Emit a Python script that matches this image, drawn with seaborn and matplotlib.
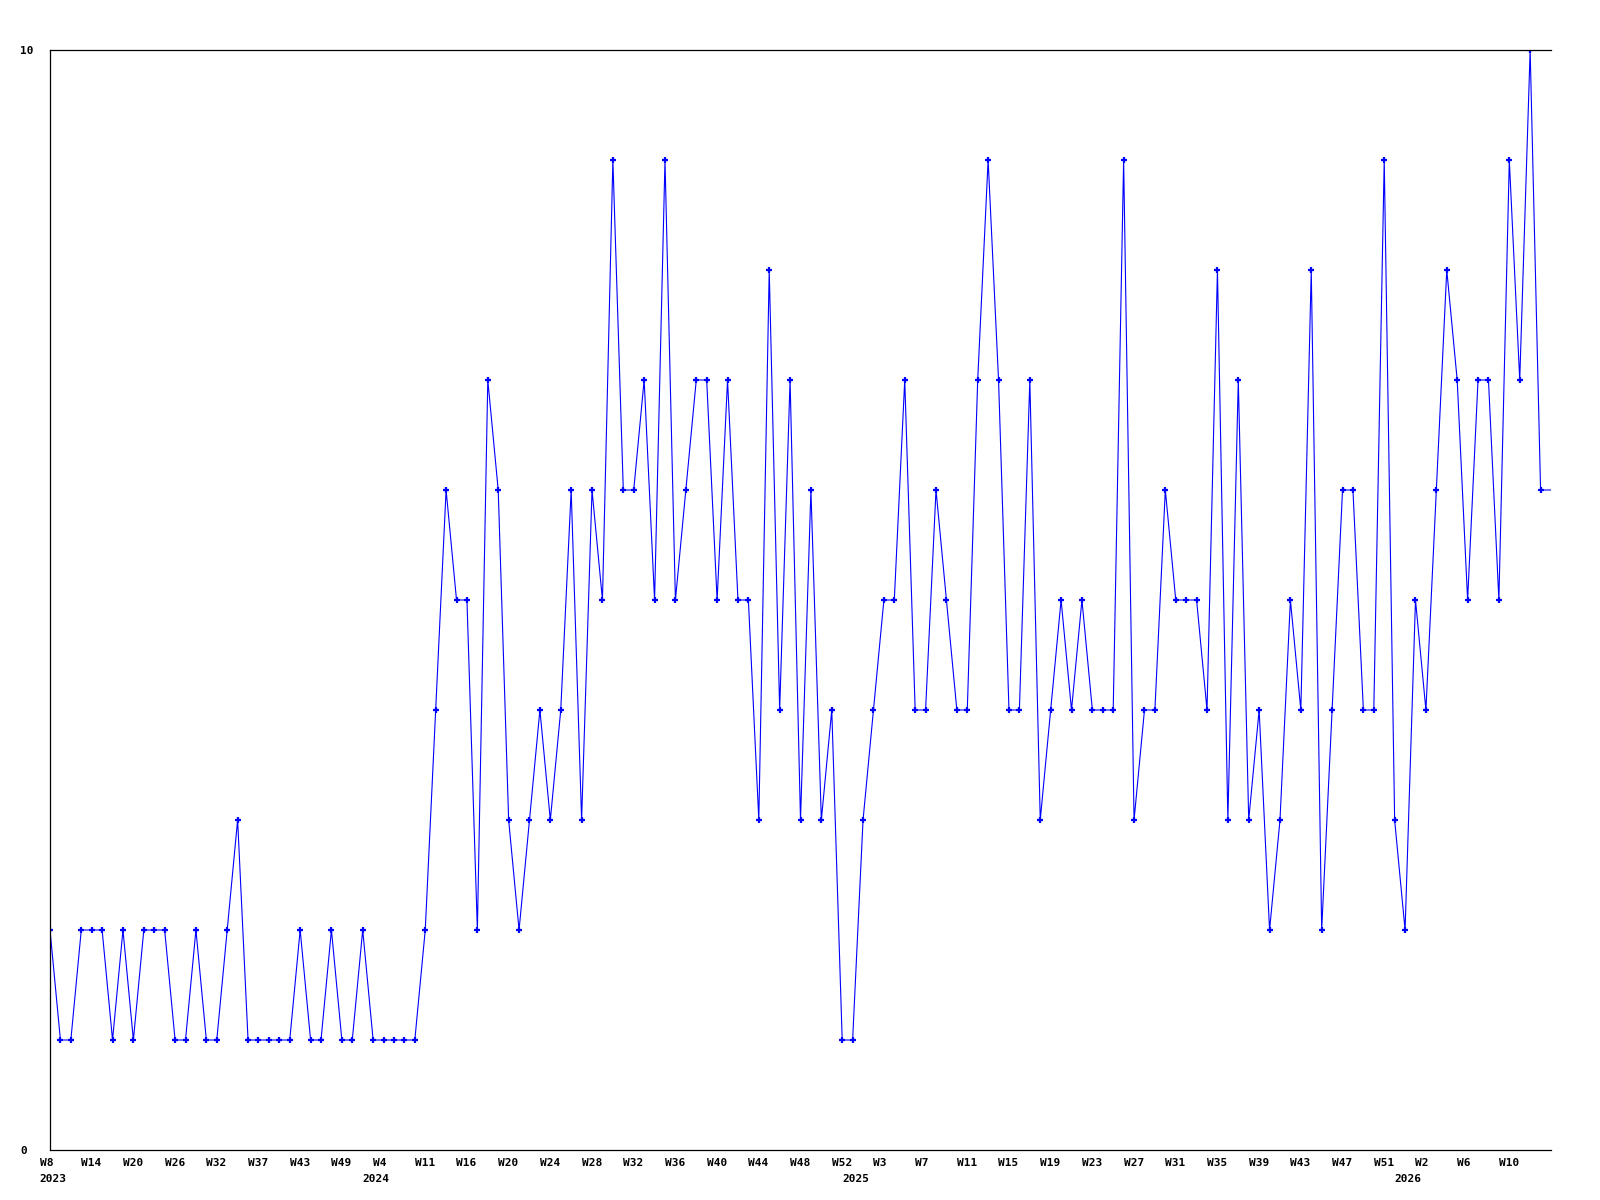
import numpy as np
import pandas as pd
import matplotlib.pyplot as plt
import matplotlib.transforms as mtransforms
import seaborn as sns

# weekly counts, one point per reported week (2023 W8 .. 2026)
values = [
    2, 1, 1, 2, 2, 2, 1, 2, 1, 2, 2, 2, 1, 1, 2, 1, 1, 2, 3, 1,
    1, 1, 1, 1, 2, 1, 1, 2, 1, 1, 2, 1, 1, 1, 1, 1, 2, 4, 6, 5,
    5, 2, 7, 6, 3, 2, 3, 4, 3, 4, 6, 3, 6, 5, 9, 6, 6, 7, 5, 9,
    5, 6, 7, 7, 5, 7, 5, 5, 3, 8, 4, 7, 3, 6, 3, 4, 1, 1, 3, 4,
    5, 5, 7, 4, 4, 6, 5, 4, 4, 7, 9, 7, 4, 4, 7, 3, 4, 5, 4, 5,
    4, 4, 4, 9, 3, 4, 4, 6, 5, 5, 5, 4, 8, 3, 7, 3, 4, 2, 3, 5,
    4, 8, 2, 4, 6, 6, 4, 4, 9, 3, 2, 5, 4, 6, 8, 7, 5, 7, 7, 5,
    9, 7, 10, 6, 6,
]

week_labels = ["W8", "W14", "W20", "W26", "W32", "W37", "W43", "W49", "W4",
               "W11", "W16", "W20", "W24", "W28", "W32", "W36", "W40", "W44",
               "W48", "W52", "W3", "W7", "W11", "W15", "W19", "W23", "W27",
               "W31", "W35", "W39", "W43", "W47", "W51", "W2", "W6", "W10"]
week_every = 4

years = ["2023", "2024", "2025", "2026"]
year_index = [0, 31, 77, 130]

df = pd.DataFrame({"idx": np.arange(len(values)), "value": values})

sns.set_style("white")
plt.rcParams['font.family'] = ['DejaVu Sans Mono', 'DejaVu Sans']

fig = plt.figure(figsize=(16, 12), dpi=100)
ax = fig.add_axes([50 / 1600, 50 / 1200, 1501 / 1600, 1100 / 1200])

# the last week runs into the right edge, without a marker
sns.lineplot(data=df, x="idx", y="value", ax=ax, color="#0000ff",
             linewidth=0.8, marker="+", markersize=5, markeredgewidth=1.6,
             markeredgecolor="#0000ff", estimator=None,
             markevery=list(range(len(values) - 1)))

ax.set_xlim(0, len(values) - 1)
ax.set_ylim(0, 10)
ax.set_xlabel("")
ax.set_ylabel("")

for side in ["left", "top", "bottom"]:
    ax.spines[side].set_color("black")
    ax.spines[side].set_linewidth(0.9)
ax.spines["right"].set_visible(False)

# y ticks: only 0 and 10, left-aligned at the figure edge
ax.set_yticks([0, 10])
ax.set_yticklabels(["0", "10"], fontsize=8, fontweight="bold", ha="left")
ax.tick_params(axis="y", length=0, pad=21.6, labelcolor="black")

# week labels every 4th point, years on a second row
ax.xaxis.remove_overlapping_locs = False
ax.set_xticks(np.arange(len(week_labels)) * week_every)
ax.set_xticklabels(week_labels, fontsize=8, fontweight="bold", ha="left")
ax.set_xticks(year_index, minor=True)
ax.set_xticklabels(years, minor=True, fontsize=8, fontweight="bold", ha="left")
ax.tick_params(axis="x", which="major", length=0, pad=6, labelcolor="black")
ax.tick_params(axis="x", which="minor", length=0, pad=17, labelcolor="black")

shift = mtransforms.ScaledTranslation(-10.5 / 100, 0, fig.dpi_scale_trans)
for lab in ax.get_xticklabels() + ax.get_xticklabels(minor=True):
    lab.set_transform(lab.get_transform() + shift)

ax.grid(False)
fig.savefig("out.png", dpi=100, facecolor="white")
